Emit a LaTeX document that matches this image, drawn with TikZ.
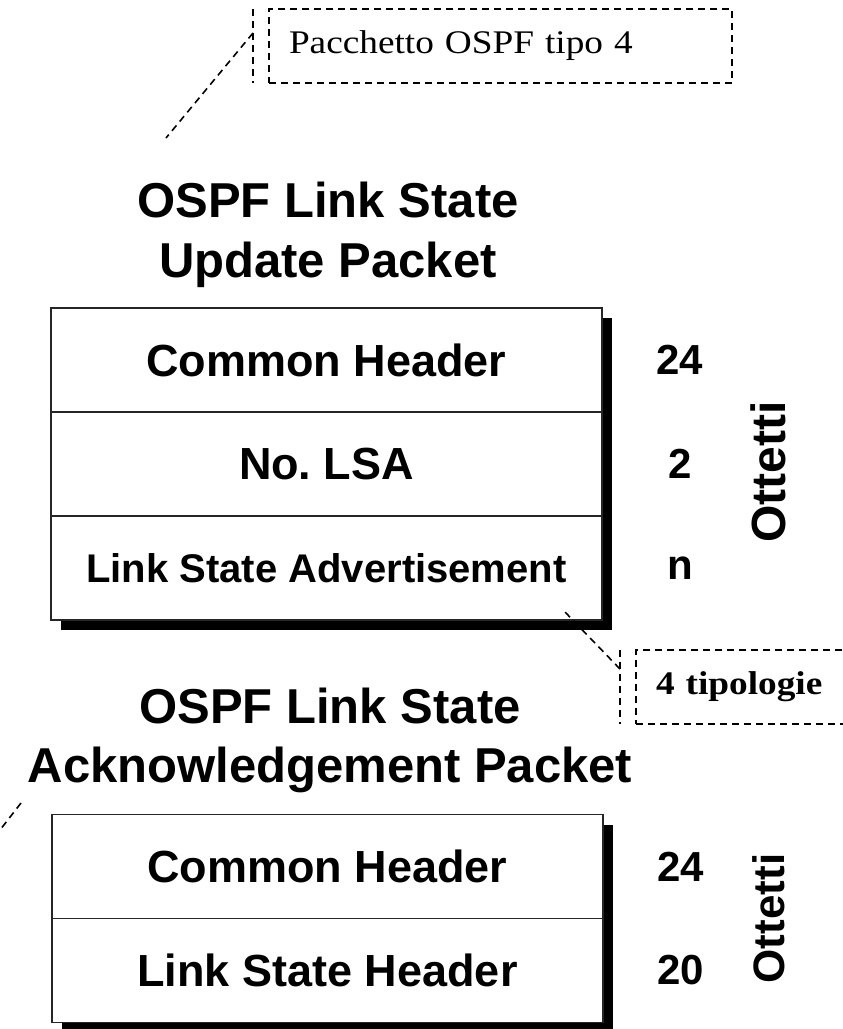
\documentclass[tikz,border=0pt]{standalone}
\usepackage{fontspec}
\setmainfont{Liberation Serif}
\setsansfont{Liberation Sans}
\newfontfamily\notefont[FakeStretch=1.13]{Liberation Serif}
\usetikzlibrary{positioning}
\usetikzlibrary{shadows}
\tikzset{field/.style = {draw = black!85, line width = 1.5pt, fill = white, outer sep = 0pt,
                         minimum width = 551pt, minimum height = 104pt, inner sep = 0pt,
                         font = \sffamily\bfseries\fontsize{45}{54}\selectfont,
                         drop shadow = {shadow xshift = 10pt, shadow yshift = -10pt,
                                        fill = black, opacity = 1}}}
\tikzset{title/.style = {font = \sffamily\bfseries\fontsize{49}{58}\selectfont, inner sep = 0pt}}
\tikzset{num/.style = {font = \sffamily\bfseries\fontsize{42}{50}\selectfont, inner sep = 0pt}}
\tikzset{octets/.style = {rotate = 90, inner sep = 0pt}}
\tikzset{note line/.style = {line width = 1.6pt, dash pattern = on 7pt off 5pt}}
\tikzset{callout/.style = {note line, draw, outer sep = 0pt, inner xsep = 20pt, inner ysep = 0pt,
                           minimum height = 74pt, align = left,
                           font = \notefont\fontsize{33}{40}\selectfont}}

\begin{document}
\begin{tikzpicture}[x = 1pt, y = -1pt]
    \useasboundingbox (0, 0) rectangle (843, 1029);

    \node [callout, anchor = north west, text width = 423pt] (typeNote) at (269, 9) {Pacchetto OSPF tipo 4};
    \draw [note line] ([xshift = -16pt] typeNote.north west) -- ([xshift = -16pt] typeNote.south west);
    \coordinate (updTip) at (166, 138);
    \draw [note line] ([xshift = -16pt, yshift = -24pt] typeNote.north west) -- (updTip);

    \node [title, anchor = base] (updTitleA) at (328, 217) {OSPF Link State};
    \node [title, anchor = base] (updTitleB) at (328, 277) {Update Packet};

    \node [field] (upd1) at (326.5, 360) {Common Header};
    \node [field, below = 0pt of upd1] (upd2) {No.\ LSA};
    \node [field, below = 0pt of upd2, font = \sffamily\bfseries\fontsize{40}{48}\selectfont] (upd3) {Link State Advertisement};

    \node [num] (updLen1) at ([xshift = 78pt] upd1.east) {24};
    \node [num] (updLen2) at ([xshift = 78pt] upd2.east) {2};
    \node [num] (updLen3) at ([xshift = 78pt] upd3.east) {n};
    \node [octets, font = \sffamily\bfseries\fontsize{48}{56}\selectfont] (updOct) at ([xshift = 166pt, yshift = -8pt] upd2.east) {Ottetti};

    \node [callout, anchor = north west, text width = 200pt, font = \notefont\bfseries\fontsize{33}{40}\selectfont] (kindNote) at (636, 650) {4 tipologie};
    \draw [note line] ([xshift = -16pt] kindNote.north west) -- ([xshift = -16pt] kindNote.south west);
    \coordinate (lsaTip) at (565, 612);
    \draw [note line] ([xshift = -16pt, yshift = -19pt] kindNote.north west) -- (lsaTip);

    \node [title, anchor = base] (ackTitleA) at (330, 723) {OSPF Link State};
    \node [title, anchor = base] (ackTitleB) at (330, 782) {Acknowledgement Packet};

    \node [field] (ack1) at (327.5, 866.5) {Common Header};
    \node [field, below = 0pt of ack1] (ack2) {Link State Header};

    \node [num] (ackLen1) at ([xshift = 78pt] ack1.east) {24};
    \node [num] (ackLen2) at ([xshift = 78pt] ack2.east) {20};
    \node [octets, font = \sffamily\bfseries\fontsize{44}{52}\selectfont] (ackOct) at ([xshift = 166pt] ack1.south east) {Ottetti};

    \coordinate (ackTipA) at (21, 803);
    \coordinate (ackTipB) at (0, 830);
    \draw [note line] (ackTipA) -- (ackTipB);
\end{tikzpicture}
\end{document}
